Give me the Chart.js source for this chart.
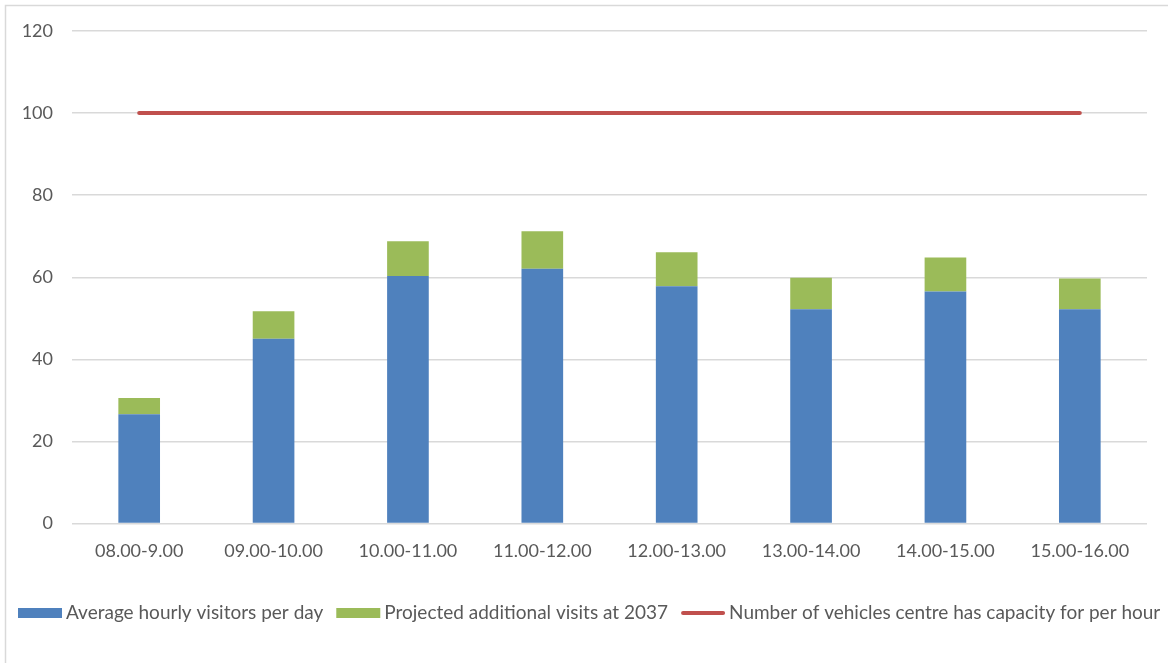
<!DOCTYPE html>
<html>
<head>
<meta charset="utf-8">
<script src="https://cdn.jsdelivr.net/npm/chart.js@4.4.1/dist/chart.umd.min.js"></script>
<style>
  html, body { margin: 0; padding: 0; background: #ffffff; overflow: hidden; }
  #wrap { position: relative; width: 1168px; height: 663px; }
</style>
</head>
<body>
<div id="wrap"><canvas id="chart" width="1168" height="663"></canvas></div>
<script>
// Hourly time slots
const timeSlots = ['08.00-9.00', '09.00-10.00', '10.00-11.00', '11.00-12.00',
                   '12.00-13.00', '13.00-14.00', '14.00-15.00', '15.00-16.00'];

// Average hourly visitors per day
const averageVisitors = [26.6, 45.0, 60.3, 62.1, 57.8, 52.2, 56.5, 52.2];

// Projected additional visits at 2037 (stacked on top of the average)
const additionalVisits = [4.0, 6.7, 8.5, 9.1, 8.3, 7.7, 8.3, 7.5];

// Vehicle capacity per hour
const capacity = [100, 100, 100, 100, 100, 100, 100, 100];

// Y axis ticks
const yTicks = [0, 20, 40, 60, 80, 100, 120];

const textColor = '#595959';
const gridColor = '#d9d9d9';
const fontFamily = 'Lato, "Liberation Sans", sans-serif';
const fontSize = 18;
const legendFontSize = 19;

// Light frame around the whole chart
const framePlugin = {
  id: 'frame',
  beforeDraw(chart) {
    const ctx = chart.ctx;
    ctx.save();
    ctx.fillStyle = '#ffffff';
    ctx.fillRect(0, 0, chart.width, chart.height);
    ctx.strokeStyle = gridColor;
    ctx.lineWidth = 1.5;
    ctx.strokeRect(5.5, 5.5, chart.width + 20, chart.height + 20);
    ctx.restore();
  }
};

// Single-row legend under the axis, in dataset order
const legendRowPlugin = {
  id: 'legendRow',
  afterDraw(chart) {
    const ctx = chart.ctx;
    const y = 613;
    const boxW = 44;
    let x = 18;
    ctx.save();
    ctx.font = legendFontSize + 'px ' + fontFamily;
    ctx.textBaseline = 'middle';
    ctx.textAlign = 'left';
    chart.data.datasets.forEach(ds => {
      if (ds.type === 'line') {
        ctx.strokeStyle = ds.borderColor;
        ctx.lineWidth = 4;
        ctx.lineCap = 'round';
        ctx.beginPath();
        ctx.moveTo(x + 2, y);
        ctx.lineTo(x + boxW - 2, y);
        ctx.stroke();
      } else {
        ctx.fillStyle = ds.backgroundColor;
        ctx.fillRect(x, y - 5, boxW, 10);
      }
      x += boxW + 4;
      ctx.fillStyle = textColor;
      ctx.fillText(ds.label, x, y);
      x += ctx.measureText(ds.label).width + 13;
    });
    ctx.restore();
  }
};

new Chart(document.getElementById('chart'), {
  type: 'bar',
  data: {
    labels: timeSlots,
    datasets: [
      {
        label: 'Average hourly visitors per day',
        data: averageVisitors,
        backgroundColor: '#4f81bd',
        stack: 'visits',
        order: 2,
        barPercentage: 0.62,
        categoryPercentage: 0.5
      },
      {
        label: 'Projected additional visits at 2037',
        data: additionalVisits,
        backgroundColor: '#9bbb59',
        stack: 'visits',
        order: 2,
        barPercentage: 0.62,
        categoryPercentage: 0.5
      },
      {
        type: 'line',
        label: 'Number of vehicles centre has capacity for per hour',
        data: capacity,
        borderColor: '#c0504d',
        backgroundColor: '#c0504d',
        borderWidth: 4,
        borderCapStyle: 'round',
        pointRadius: 0,
        pointHoverRadius: 0,
        fill: false,
        order: 1
      }
    ]
  },
  options: {
    responsive: false,
    animation: false,
    layout: { padding: { top: 31, right: 21, left: 0, bottom: 85.5 } },
    plugins: {
      tooltip: { enabled: false },
      legend: { display: false }
    },
    scales: {
      x: {
        stacked: true,
        grid: { display: false, drawTicks: false },
        border: { display: false },
        ticks: {
          color: textColor,
          font: { family: fontFamily, size: fontSize },
          padding: 17,
          maxRotation: 0
        },
        afterFit(scale) { scale.height = 54; }
      },
      y: {
        stacked: true,
        min: 0,
        max: 120,
        afterBuildTicks(scale) { scale.ticks = yTicks.map(v => ({ value: v })); },
        grid: { color: gridColor, lineWidth: 1.5, drawTicks: false },
        border: { display: false },
        ticks: {
          color: textColor,
          font: { family: fontFamily, size: fontSize },
          padding: 19
        },
        afterFit(scale) { scale.width = 72; }
      }
    }
  },
  plugins: [framePlugin, legendRowPlugin]
});
</script>
</body>
</html>
